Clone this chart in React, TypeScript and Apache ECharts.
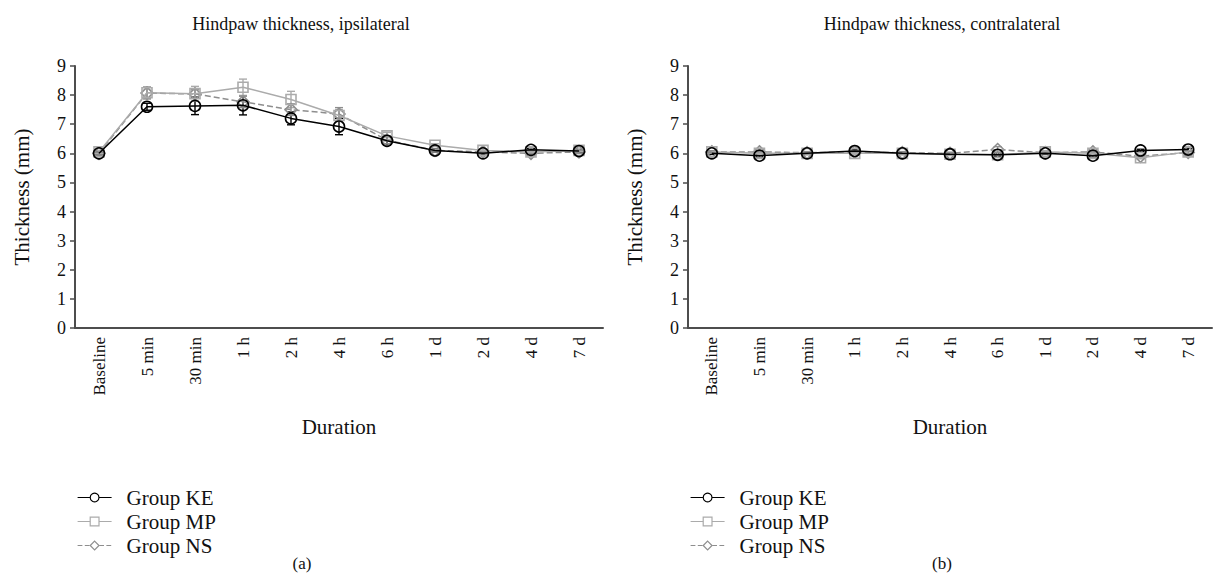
import React, { useEffect, useRef } from "react";
import * as echarts from "echarts";

const categories = ["Baseline", "5 min", "30 min", "1 h", "2 h", "4 h", "6 h", "1 d", "2 d", "4 d", "7 d"];
const yTicks = [0, 1, 2, 3, 4, 5, 6, 7, 8, 9];

// (a) ipsilateral
const ipsiKE = [6.0, 7.6, 7.63, 7.65, 7.2, 6.92, 6.43, 6.1, 6.0, 6.12, 6.08];
const ipsiKEErr = [0.05, 0.12, 0.3, 0.33, 0.22, 0.28, 0.15, 0.05, 0.05, 0.05, 0.05];
const ipsiMP = [6.05, 8.08, 8.05, 8.27, 7.85, 7.3, 6.6, 6.28, 6.1, 6.05, 6.1];
const ipsiMPErr = [0.05, 0.2, 0.25, 0.28, 0.28, 0.2, 0.12, 0.05, 0.05, 0.05, 0.05];
const ipsiNS = [6.0, 8.07, 8.04, 7.77, 7.5, 7.35, 6.45, 6.1, 6.05, 6.0, 6.05];
const ipsiNSErr = [0.05, 0.2, 0.15, 0.2, 0.2, 0.22, 0.12, 0.05, 0.05, 0.05, 0.05];

// (b) contralateral
const contraKE = [6.0, 5.92, 6.0, 6.08, 6.0, 5.97, 5.95, 6.0, 5.92, 6.1, 6.13];
const contraKEErr = [0.04, 0.04, 0.04, 0.04, 0.04, 0.04, 0.04, 0.04, 0.04, 0.04, 0.04];
const contraMP = [6.05, 6.0, 6.0, 6.0, 6.0, 5.97, 5.95, 6.05, 6.0, 5.85, 6.05];
const contraMPErr = [0.04, 0.04, 0.04, 0.04, 0.04, 0.04, 0.1, 0.04, 0.04, 0.04, 0.04];
const contraNS = [6.05, 6.05, 6.02, 6.05, 6.02, 6.0, 6.13, 6.02, 6.05, 5.9, 6.03];
const contraNSErr = [0.04, 0.04, 0.04, 0.04, 0.04, 0.04, 0.1, 0.04, 0.04, 0.04, 0.04];

const groupNames = ["Group KE", "Group MP", "Group NS"];
const FONT = "Liberation Serif";

export default function App() {
  const ref = useRef<HTMLDivElement>(null);
  useEffect(() => {
    if (!ref.current) return;
    document.body.style.margin = "0";
    const chart = echarts.init(ref.current, undefined, { renderer: "svg" });

    const styles = [
      { color: "#000000", symbol: "circle", type: "solid", size: 11 },
      { color: "#ababab", symbol: "rect", type: "solid", size: 10 },
      { color: "#8e8e8e", symbol: "diamond", type: "dashed", size: 12 },
    ];

    const errSeries = (xi: number, vals: number[], errs: number[], color: string) => ({
      type: "custom",
      xAxisIndex: xi,
      yAxisIndex: xi,
      silent: true,
      z: 3,
      data: vals.map((v, i) => [i, v - errs[i], v + errs[i]]),
      renderItem: (params: any, api: any) => {
        const lo = api.coord([api.value(0), api.value(1)]);
        const hi = api.coord([api.value(0), api.value(2)]);
        const w = 4;
        const st = { stroke: color, lineWidth: 1.4 };
        return {
          type: "group",
          children: [
            { type: "line", shape: { x1: lo[0], y1: lo[1], x2: hi[0], y2: hi[1] }, style: st },
            { type: "line", shape: { x1: lo[0] - w, y1: lo[1], x2: lo[0] + w, y2: lo[1] }, style: st },
            { type: "line", shape: { x1: hi[0] - w, y1: hi[1], x2: hi[0] + w, y2: hi[1] }, style: st },
          ],
        };
      },
    });

    const lineSeries = (xi: number, k: number, vals: number[]) => ({
      type: "line",
      name: groupNames[k],
      xAxisIndex: xi,
      yAxisIndex: xi,
      data: vals,
      symbol: styles[k].symbol,
      symbolSize: styles[k].size,
      showAllSymbol: true,
      z: 5 - k,
      lineStyle: { color: styles[k].color, width: 1.5, type: styles[k].type },
      itemStyle: { color: "rgba(255,255,255,0)", borderColor: styles[k].color, borderWidth: 1.6 },
    });

    const xAxis = (gi: number) => ({
      type: "category",
      gridIndex: gi,
      data: categories,
      boundaryGap: true,
      axisLine: { lineStyle: { color: "#4d4d4d", width: 2 } },
      axisTick: { show: false },
      axisLabel: { rotate: 90, color: "#111", fontFamily: FONT, fontSize: 17, margin: 9 },
      name: "Duration",
      nameLocation: "middle",
      nameGap: 88,
      nameTextStyle: { color: "#111", fontFamily: FONT, fontSize: 21 },
    });
    const yAxis = (gi: number) => ({
      type: "value",
      gridIndex: gi,
      min: 0,
      max: 9,
      interval: 1,
      axisLine: { show: true, lineStyle: { color: "#4d4d4d", width: 2 } },
      axisTick: { show: true, length: 5, lineStyle: { color: "#4d4d4d", width: 1.5 } },
      splitLine: { show: false },
      axisLabel: {
        color: "#111",
        fontFamily: FONT,
        fontSize: 18,
        margin: 9,
        formatter: (v: number) => (yTicks.includes(v) ? String(v) : ""),
      },
      name: "Thickness (mm)",
      nameLocation: "middle",
      nameGap: 43,
      nameTextStyle: { color: "#111", fontFamily: FONT, fontSize: 21 },
    });

    const legend = (left: number) => ({
      orient: "vertical",
      left,
      top: 482,
      itemWidth: 34,
      itemHeight: 11,
      itemGap: 3,
      data: groupNames.map((name, k) => ({
        name,
        itemStyle: { color: "#ffffff", borderColor: styles[k].color, borderWidth: 1.2 },
        lineStyle: { color: styles[k].color, width: 1.2, type: styles[k].type },
      })),
      textStyle: { color: "#111", fontFamily: FONT, fontSize: 21, padding: [0, 0, 0, 10] },
      selectedMode: false,
    });

    const tStyle = (size: number) => ({ fontFamily: FONT, fontSize: size, fontWeight: "normal", color: "#111" });

    chart.setOption({
      animation: false,
      backgroundColor: "#ffffff",
      title: [
        { text: "Hindpaw thickness, ipsilateral", left: 296, top: 10, textAlign: "center", textStyle: tStyle(18) },
        { text: "Hindpaw thickness, contralateral", left: 937, top: 10, textAlign: "center", textStyle: tStyle(18) },
        { text: "(a)", left: 297, top: 550, textAlign: "center", textStyle: tStyle(17) },
        { text: "(b)", left: 937, top: 550, textAlign: "center", textStyle: tStyle(17) },
      ],
      legend: [legend(72), legend(685)],
      grid: [
        { left: 75, top: 66, width: 528, height: 262, containLabel: false },
        { left: 688, top: 66, width: 524, height: 262, containLabel: false },
      ],
      xAxis: [xAxis(0), xAxis(1)],
      yAxis: [yAxis(0), yAxis(1)],
      series: [
        errSeries(0, ipsiKE, ipsiKEErr, styles[0].color),
        errSeries(0, ipsiMP, ipsiMPErr, styles[1].color),
        errSeries(0, ipsiNS, ipsiNSErr, styles[2].color),
        lineSeries(0, 0, ipsiKE),
        lineSeries(0, 1, ipsiMP),
        lineSeries(0, 2, ipsiNS),
        errSeries(1, contraKE, contraKEErr, styles[0].color),
        errSeries(1, contraMP, contraMPErr, styles[1].color),
        errSeries(1, contraNS, contraNSErr, styles[2].color),
        lineSeries(1, 0, contraKE),
        lineSeries(1, 1, contraMP),
        lineSeries(1, 2, contraNS),
      ],
    });
    return () => chart.dispose();
  }, []);
  return <div ref={ref} style={{ width: 1216, height: 575 }} />;
}
